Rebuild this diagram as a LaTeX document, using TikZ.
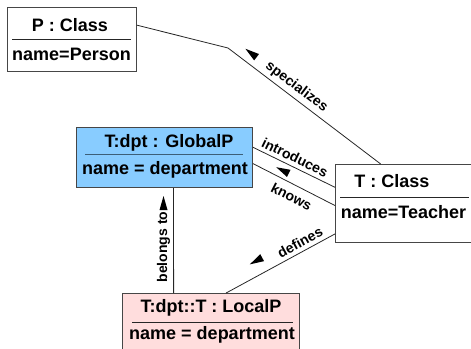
\documentclass[tikz,border=0pt]{standalone}
\usepackage{fontspec}
\setmainfont{Liberation Sans}
\usetikzlibrary{calc}
\definecolor{gblue}{RGB}{136,204,255}
\definecolor{lpink}{RGB}{255,221,221}
\definecolor{edgegray}{RGB}{70,70,70}
\definecolor{divblue}{RGB}{60,95,120}
\begin{document}
\begin{tikzpicture}[x=1pt,y=-1pt,
  box/.style={draw=edgegray, line width=1pt, inner sep=0pt, anchor=north west},
  ttl/.style={font=\fontsize{18}{20}\selectfont\bfseries, inner sep=0pt, anchor=base},
  lbl/.style={font=\fontsize{14}{16}\selectfont\bfseries, inner sep=0pt},
  conn/.style={draw=black!85, line width=0.8pt},
  divider/.style={draw=black!85, line width=0.9pt},
  tri/.pic={\fill[black] (7,0) -- (-7,4) -- (-7,-4) -- cycle;}]
\useasboundingbox (0,0) rectangle (471,348);

% boxes
\node[box, fill=white, minimum width=129pt, minimum height=64pt] (P) at (7,7) {};
\node[box, fill=gblue, minimum width=176pt, minimum height=60pt] (G) at (76,127) {};
\node[box, fill=white, minimum width=140pt, minimum height=78pt] (T) at (335,164) {};
\node[box, fill=lpink, minimum width=177pt, minimum height=70pt] (L) at (122,293) {};

% dividers
\draw[divider] (12,39) -- (131,39);
\draw[divider, draw=divblue] (85,154) -- (243,154);
\draw[divider] (340,197) -- (469,197);
\draw[divider] (132,322) -- (293,322);

% texts
\node[ttl] (Pt) at (70,31) {P : Class};
\node[ttl] (Pa) at (71.5,60) {name=Person};
\node[ttl] (Gt) at (169,147) {T:dpt : GlobalP};
\node[ttl] (Ga) at (165,174) {name = department};
\node[ttl] (Tt) at (392,187) {T : Class};
\node[ttl] (Ta) at (403.5,218) {name=Teacher};
\node[ttl] (Lt) at (211,312) {T:dpt::T : LocalP};
\node[ttl] (La) at (212,339) {name = department};

% connectors
\coordinate (bend) at (228,48);
\draw[conn] ($(P.north east)!0.28!(P.south east)$) -- (bend) -- ($(T.north west)!0.324!(T.north east)$);
\draw[conn] ($(G.north east)!0.333!(G.south east)$) -- ($(T.north west)!0.295!(T.south west)$);
\draw[conn] ($(G.north east)!0.6!(G.south east)$) -- ($(T.north west)!0.526!(T.south west)$);
\draw[conn] ($(L.north west)!0.585!(L.north east)$) -- ($(T.north west)!0.885!(T.south west)$);
\draw[conn] ($(G.south west)!0.551!(G.south east)$) -- ($(L.north west)!0.29!(L.north east)$);

% labels
\node[lbl, rotate=-37] (lspec) at (296.5,87) {specializes};
\node[lbl, rotate=-26] (lintro) at (295,157.5) {introduces};
\node[lbl, rotate=-27] (lknows) at (291.5,196.5) {knows};
\node[lbl, rotate=28.6] (ldef) at (300,242.5) {defines};
\node[lbl, rotate=90] (lbel) at (163.5,247) {belongs to};

% arrow heads
\pic[rotate=142.9] at (251,53) {tri};
\pic[rotate=153.7] at (282.5,170.3) {tri};
\pic[rotate=208.6] at (256,261) {tri};
\pic[rotate=90] at (163.5,203) {tri};
\end{tikzpicture}
\end{document}
